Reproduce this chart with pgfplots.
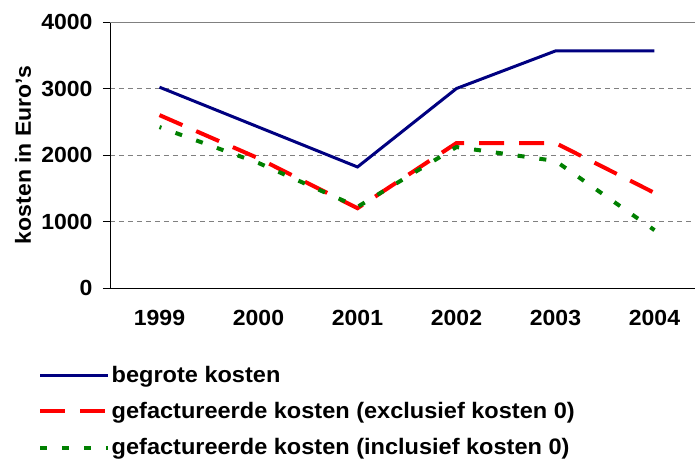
\documentclass[border=0pt]{standalone}
\usepackage{fontspec}
\setmainfont[FakeStretch=1.05]{Liberation Sans}
\usepackage{pgfplots}
\pgfplotsset{compat=1.18}
\definecolor{cblue}{HTML}{000080}
\definecolor{cred}{HTML}{FF0000}
\definecolor{cgreen}{HTML}{008000}
\begin{document}
\begin{tikzpicture}
\begin{axis}[
  name=ax, at={(0,0)}, anchor=south west,
  scale only axis, width=594bp, height=266bp,
  xmin=-0.5, xmax=5.5, ymin=0, ymax=4000,
  axis lines=left, axis line style={-, black, line width=0.8bp},
  xtick={0,1,2,3,4,5},
  xticklabels={1999,2000,2001,2002,2003,2004},
  major x tick style={draw=none},
  extra x ticks={-0.5,0.5,1.5,2.5,3.5,4.5},
  extra x tick labels={},
  extra x tick style={major tick length=7bp, tick align=outside, tick style={black, line width=0.6bp, draw=black}},
  ytick={0,1000,2000,3000,4000},
  tick align=outside, major tick length=7bp,
  ytick style={black, line width=0.6bp},
  ymajorgrids, major grid style={gray, dash pattern=on 5bp off 4bp, line width=0.8bp},
  /pgf/number format/assume math mode=true,
  /pgf/number format/1000 sep={},
  yticklabel style={font=\fontsize{22}{25}\selectfont\bfseries, xshift=-7bp},
  xticklabel style={font=\fontsize{22}{25}\selectfont\bfseries, yshift=-12bp},
  ylabel={kosten in Euro's},
  ylabel style={font=\fontsize{22}{25}\selectfont\bfseries, at={(axis description cs:-0.1465,0.5)}, anchor=center, rotate=0},
  legend style={draw=none, fill=none, at={(-72bp,-76.5bp)}, anchor=north west, inner sep=0pt,
    font=\fontsize{22.5}{25}\selectfont\bfseries, row sep=15.5bp, nodes={inner sep=1.5bp}},
  legend cell align=left,
  legend image code/.code={\draw[#1] (0bp,0bp) -- (68bp,0bp);},
  clip=false,
]
\addplot[cblue, line width=3bp] coordinates {(0,3020) (1,2420) (2,1820) (3,3000) (4,3565) (5,3565)};
\addlegendentry{begrote kosten}
\addplot[cred, line width=4bp, dash pattern=on 25bp off 15bp] coordinates {(0,2600) (1,1950) (2,1200) (3,2180) (4,2180) (5,1430)};
\addlegendentry{gefactureerde kosten (exclusief kosten 0)}
\addplot[cgreen, line width=4bp, dash pattern=on 7bp off 15bp, dash phase=5bp, legend image post style={dash phase=0bp}] coordinates {(0,2420) (1,1880) (2,1220) (3,2120) (4,1910) (5,870)};
\addlegendentry{gefactureerde kosten (inclusief kosten 0)}
\draw[gray, line width=0.8bp] (axis cs:-0.5,4000) -- (axis cs:5.5,4000);
\end{axis}
\pgfresetboundingbox
\path[use as bounding box] (-110bp,-176bp) rectangle (585bp,288bp);
\end{tikzpicture}
\end{document}
